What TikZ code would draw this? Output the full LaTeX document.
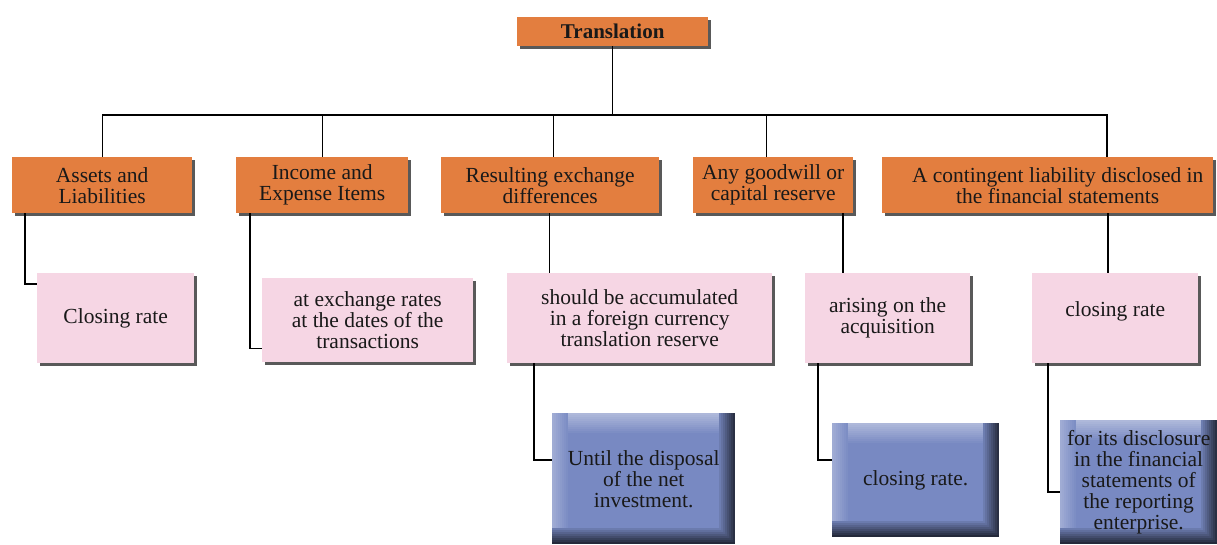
\documentclass[tikz,border=0pt]{standalone}
\usepackage{fontspec}
\setmainfont{Liberation Serif}
\usetikzlibrary{shadows}
\definecolor{orng}{RGB}{227,126,63}
\definecolor{pnk}{RGB}{246,214,228}
\definecolor{blu}{RGB}{120,137,194}
\tikzset{
  txt/.style={font=\fontsize{21.5}{21}\selectfont, align=center, text=black!90},
  shad/.style={drop shadow={shadow xshift=3pt, shadow yshift=-3pt, fill=black!65, opacity=1}},
  obox/.style={txt, shad, fill=orng, draw=none, anchor=north west, inner sep=2pt},
  pbox/.style={txt, shad, fill=pnk, draw=none, anchor=north west, inner sep=2pt},
  bbox/.style={txt, fill=blu, draw=none, anchor=north west, inner sep=2pt,
    path picture={
      \foreach \k in {0,...,9} {
        \pgfmathsetmacro\p{40-4*\k}
        \pgfmathsetmacro\a{-2*\k}
        \pgfmathsetmacro\b{-2*\k-2}
        \fill[white!\p!blu] ([yshift=\a pt]path picture bounding box.north west) rectangle ([yshift=\b pt]path picture bounding box.north east);
      }
      \foreach \k in {0,...,7} {
        \pgfmathsetmacro\p{30-3.75*\k}
        \pgfmathsetmacro\a{2*\k}
        \pgfmathsetmacro\b{2*\k+2}
        \fill[white!\p!blu] ([xshift=\a pt]path picture bounding box.north west) rectangle ([xshift=\b pt]path picture bounding box.south west);
      }
      \foreach \k in {0,...,7} {
        \pgfmathsetmacro\p{65-8*\k}
        \pgfmathsetmacro\a{-2*\k}
        \pgfmathsetmacro\b{-2*\k-2}
        \fill[black!\p!blu] ([xshift=\a pt]path picture bounding box.north east) rectangle ([xshift=\b pt]path picture bounding box.south east);
      }
      \foreach \k in {0,...,7} {
        \pgfmathsetmacro\p{70-8.5*\k}
        \pgfmathsetmacro\a{2*\k}
        \pgfmathsetmacro\b{2*\k+2}
        \fill[black!\p!blu] ([yshift=\a pt]path picture bounding box.south west) rectangle ([yshift=\b pt, xshift=-2*\k pt]path picture bounding box.south east);
      }
    }},
  conn/.style={draw=black, line width=1.4pt}
}
\begin{document}
\begin{tikzpicture}[x=1pt, y=-1pt]
\useasboundingbox (0,0) rectangle (1217,544);
% top
\node[obox, minimum width=191pt, minimum height=29pt, font=\fontsize{21}{21}\selectfont\bfseries] (tr) at (517,17) {Translation};
% first row
\node[obox, minimum width=180pt, minimum height=56pt] (as) at (12,157) {Assets and\\Liabilities};
\node[obox, minimum width=172pt, minimum height=56pt] (in) at (236,157) {Income and\\Expense Items};
\node[obox, minimum width=218pt, minimum height=56pt] (rs) at (441,157) {Resulting exchange\\differences};
\node[obox, minimum width=160pt, minimum height=56pt] (gw) at (693,157) {Any goodwill or\\capital reserve};
\node[obox, minimum width=331pt, minimum height=56pt, label={[txt, name=ctt, xshift=10pt]center:A contingent liability disclosed in\\the financial statements}] (ct) at (882,157) {};
% second row
\node[pbox, minimum width=157pt, minimum height=90pt] (cr1) at (37,273) {Closing rate};
\node[pbox, minimum width=211pt, minimum height=84pt] (ex) at (262,278) {at exchange rates\\at the dates of the\\transactions};
\node[pbox, minimum width=265pt, minimum height=90pt] (acc) at (507,273) {should be accumulated\\in a foreign currency\\translation reserve};
\node[pbox, minimum width=165pt, minimum height=90pt] (ari) at (805,273) {arising on the\\acquisition};
\node[pbox, minimum width=166pt, minimum height=90pt, label={[txt, name=cr2t, yshift=7pt]center:closing rate}] (cr2) at (1032,273) {};
% third row
\node[bbox, minimum width=183pt, minimum height=131pt] (un) at (552,413) {Until the disposal\\of the net\\investment.};
\node[bbox, minimum width=167pt, minimum height=114pt] (cl) at (832,423) {closing rate.};
\node[bbox, minimum width=157pt, minimum height=124pt] (di) at (1060,420) {for its disclosure\\in the financial\\statements of\\the reporting\\enterprise.};
% connectors
\coordinate (bus) at (611,115);
\draw[conn] (tr.south) -- (tr.south |- bus);
\draw[conn] (as.north) -- (as.north |- bus) -- ([xshift=225pt]ct.north west |- bus) -- ([xshift=225pt]ct.north west);
\draw[conn] (in.north) -- (in.north |- bus);
\draw[conn] ([xshift=3pt]rs.north) -- ([xshift=3pt]rs.north |- bus);
\draw[conn] ([xshift=-7pt]gw.north) -- ([xshift=-7pt]gw.north |- bus);
\draw[conn] ([xshift=13pt]as.south west) |- ([yshift=-11pt]cr1.north west);
\draw[conn] ([xshift=14pt]in.south west) |- ([yshift=14pt]ex.south west);
\draw[conn] ([xshift=-1pt]rs.south) -- ([xshift=-1pt]rs.south |- acc.north);
\draw[conn] ([xshift=150pt]gw.south west) -- ([xshift=150pt]gw.south west |- ari.north);
\draw[conn] ([xshift=226pt]ct.south west) -- ([xshift=226pt]ct.south west |- cr2.north);
\draw[conn] ([xshift=27pt]acc.south west) |- ([yshift=-47pt]un.north west);
\draw[conn] ([xshift=13pt]ari.south west) |- ([yshift=-37pt]cl.north west);
\draw[conn] ([xshift=16pt]cr2.south west) |- ([yshift=-72pt]di.north west);
\end{tikzpicture}
\end{document}
